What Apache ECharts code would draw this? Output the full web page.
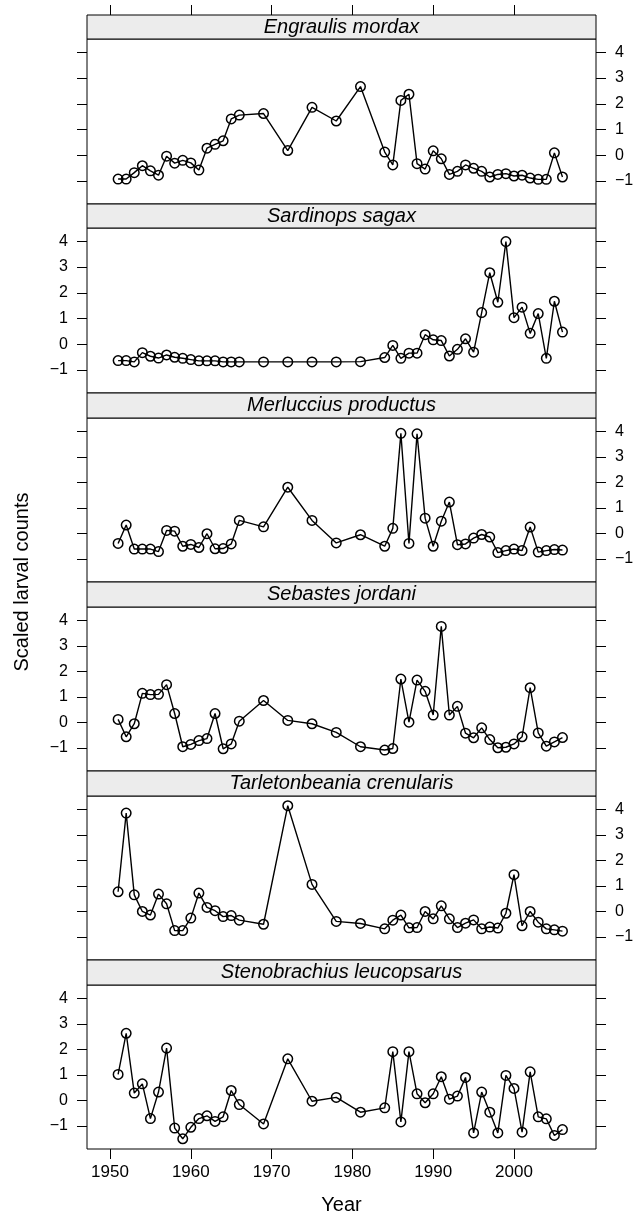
<!DOCTYPE html>
<html><head><meta charset="utf-8">
<script src="https://cdn.jsdelivr.net/npm/echarts@6/dist/echarts.min.js"></script>
<style>html,body{margin:0;padding:0;background:#fff}#c{width:641px;height:1217px}</style>
</head><body><div id="c"></div>
<script>
// ---- data ----
const years = [1951,1952,1953,1954,1955,1956,1957,1958,1959,1960,1961,1962,1963,1964,1965,1966,
  1969,1972,1975,1978,1981,
  1984,1985,1986,1987,1988,1989,1990,1991,1992,1993,1994,1995,1996,1997,1998,1999,2000,2001,2002,2003,2004,2005,2006];
const speciesNames = ["Engraulis mordax","Sardinops sagax","Merluccius productus","Sebastes jordani","Tarletonbeania crenularis","Stenobrachius leucopsarus"];
const engraulis = [-0.93,-0.93,-0.68,-0.41,-0.61,-0.78,-0.04,-0.31,-0.20,-0.30,-0.58,0.27,0.42,0.56,1.41,1.56,
  1.62,0.18,1.86,1.33,2.67,
  0.12,-0.38,2.13,2.37,-0.33,-0.54,0.17,-0.14,-0.75,-0.63,-0.38,-0.51,-0.63,-0.85,-0.75,-0.72,-0.81,-0.78,-0.89,-0.94,-0.94,0.09,-0.85];
const sardinops = [-0.64,-0.64,-0.69,-0.33,-0.47,-0.54,-0.42,-0.51,-0.55,-0.60,-0.65,-0.65,-0.65,-0.69,-0.69,-0.69,
  -0.69,-0.69,-0.69,-0.69,-0.68,
  -0.52,-0.05,-0.55,-0.35,-0.35,0.37,0.17,0.14,-0.46,-0.20,0.21,-0.31,1.23,2.78,1.63,3.99,1.03,1.44,0.42,1.19,-0.55,1.67,0.47];
const merluccius = [-0.39,0.33,-0.61,-0.61,-0.61,-0.71,0.12,0.09,-0.50,-0.43,-0.55,-0.01,-0.60,-0.59,-0.41,0.51,
  0.26,1.81,0.51,-0.37,-0.05,
  -0.50,0.20,3.92,-0.39,3.90,0.60,-0.50,0.48,1.23,-0.44,-0.41,-0.18,-0.04,-0.14,-0.75,-0.67,-0.61,-0.67,0.25,-0.73,-0.67,-0.63,-0.65];
const sebastes = [0.12,-0.56,-0.05,1.14,1.09,1.10,1.48,0.35,-0.95,-0.86,-0.71,-0.63,0.35,-1.03,-0.84,0.05,
  0.86,0.08,-0.05,-0.39,-0.95,
  -1.08,-1.02,1.70,0.01,1.66,1.22,0.29,3.76,0.29,0.63,-0.42,-0.60,-0.21,-0.67,-0.99,-0.97,-0.84,-0.56,1.36,-0.41,-0.93,-0.76,-0.59];
const tarletonbeania = [0.77,3.85,0.65,0.00,-0.14,0.68,0.30,-0.75,-0.75,-0.26,0.72,0.16,0.03,-0.20,-0.16,-0.34,
  -0.50,4.14,1.06,-0.39,-0.47,
  -0.68,-0.34,-0.14,-0.64,-0.63,0.00,-0.29,0.22,-0.29,-0.63,-0.46,-0.33,-0.68,-0.61,-0.65,-0.07,1.44,-0.56,0.00,-0.42,-0.68,-0.72,-0.77];
const stenobrachius = [1.02,2.63,0.29,0.65,-0.71,0.33,2.05,-1.08,-1.50,-1.05,-0.71,-0.60,-0.82,-0.64,0.39,-0.16,
  -0.92,1.63,-0.03,0.12,-0.46,
  -0.29,1.91,-0.84,1.91,0.26,-0.09,0.26,0.93,0.05,0.17,0.90,-1.27,0.33,-0.46,-1.27,0.98,0.47,-1.24,1.12,-0.64,-0.72,-1.37,-1.14];
const xTickLabels = [1950,1960,1970,1980,1990,2000];
const yTickLabels = [-1,0,1,2,3,4];
const xTitle = "Year";
const yTitle = "Scaled larval counts";

// ---- layout / style ----
const FONT = '"Liberation Sans", Arial, Helvetica, sans-serif';
const seriesData = [engraulis, sardinops, merluccius, sebastes, tarletonbeania, stenobrachius];
const L = 87, W = 509;
const TOP0 = 14.7, STRIP = 24.6, PLOT = 164.5, PITCH = STRIP + PLOT;
const X_MIN = 1947.15, X_MAX = 2010.15, Y_MIN = -1.9, Y_MAX = 4.52;
const fmtY = v => v < 0 ? '\u2212' + Math.abs(v) : String(v);
const fmtX = v => String(v);

const grids = [], xAxes = [], yAxes = [], series = [], graphics = [];
seriesData.forEach((vals, k) => {
  const stripTop = Math.round(TOP0 + PITCH * k);
  const plotTop = Math.round(TOP0 + PITCH * k + STRIP);
  const plotBottom = Math.round(TOP0 + PITCH * (k + 1));
  grids.push({left: L, top: plotTop, width: W, height: plotBottom - plotTop, show: true,
    borderColor: '#000', borderWidth: 1, backgroundColor: 'transparent', containLabel: false});
  const isTop = k === 0, isBottom = k === seriesData.length - 1;
  xAxes.push({
    gridIndex: k, type: 'value', min: X_MIN, max: X_MAX,
    position: isTop ? 'top' : 'bottom',
    offset: isTop ? (plotTop - stripTop) : 0,
    show: isTop || isBottom,
    axisLine: {show: false, onZero: false},
    splitLine: {show: false},
    axisTick: {show: true, customValues: xTickLabels, length: 10, inside: false, lineStyle: {color: '#000', width: 1}},
    axisLabel: {show: isBottom, customValues: xTickLabels, formatter: fmtX, margin: 15, color: '#000', fontSize: 17, fontFamily: FONT},
    name: isBottom ? xTitle : '', nameLocation: 'middle', nameGap: 46,
    nameTextStyle: {color: '#000', fontSize: 20, fontFamily: FONT}
  });
  const labelRight = (k % 2 === 0);
  ['left', 'right'].forEach(side => {
    const showLab = (side === 'right') === labelRight;
    yAxes.push({
      gridIndex: k, type: 'value', min: Y_MIN, max: Y_MAX, position: side,
      axisLine: {show: false, onZero: false}, splitLine: {show: false},
      axisTick: {show: true, customValues: yTickLabels, length: 10, inside: false, lineStyle: {color: '#000', width: 1}},
      axisLabel: {show: showLab, customValues: yTickLabels, formatter: fmtY, margin: 19, color: '#000', fontSize: 16, fontFamily: FONT}
    });
  });
  series.push({
    type: 'line', xAxisIndex: k, yAxisIndex: 2 * k,
    data: years.map((y, i) => [y, vals[i]]),
    symbol: 'circle', symbolSize: 9.5,
    lineStyle: {color: '#000', width: 1.4},
    itemStyle: {color: 'rgba(0,0,0,0)', borderColor: '#000', borderWidth: 1.5},
    emphasis: {disabled: true}, animation: false, z: 3
  });
  graphics.push({type: 'rect', shape: {x: L, y: stripTop, width: W, height: plotTop - stripTop},
    style: {fill: '#ececec', stroke: '#000', lineWidth: 1}, z: 10});
  graphics.push({type: 'text', x: L + W / 2, y: (stripTop + plotTop) / 2,
    style: {text: speciesNames[k], fontSize: 20, fontStyle: 'italic', fontFamily: FONT, fill: '#000',
      align: 'center', verticalAlign: 'middle'}, z: 11});
});
graphics.push({type: 'text', x: 22, y: (TOP0 + TOP0 + PITCH * 6) / 2, rotation: Math.PI / 2,
  style: {text: yTitle, fontSize: 20, fontFamily: FONT, fill: '#000', align: 'center', verticalAlign: 'middle'}});

const chart = echarts.init(document.getElementById('c'), null, {renderer: 'canvas'});
chart.setOption({
  backgroundColor: '#fff', animation: false,
  grid: grids, xAxis: xAxes, yAxis: yAxes, series: series, graphic: graphics
});
</script></body></html>
